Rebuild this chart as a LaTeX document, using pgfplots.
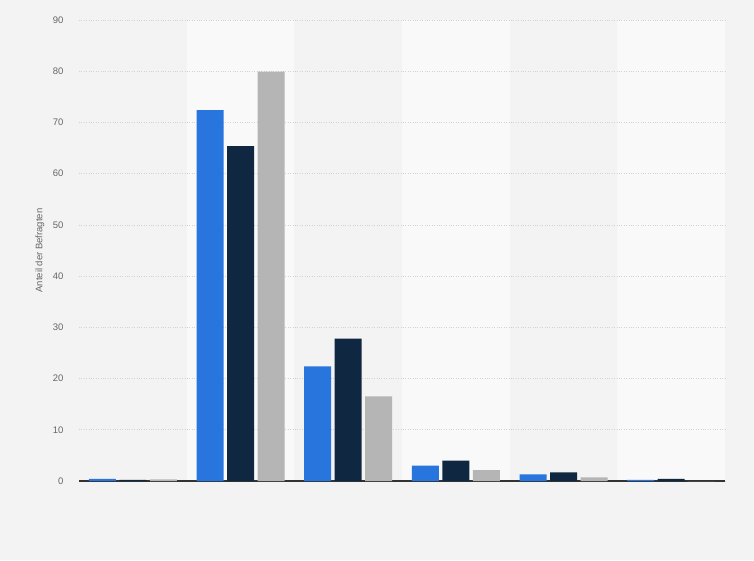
\documentclass[border=0pt]{standalone}
\usepackage{pgfplots}
\pgfplotsset{compat=1.18}
\usepackage{fontspec}
\setmainfont{Liberation Sans}

\definecolor{bg}{HTML}{F3F3F3}
\definecolor{band}{HTML}{F9F9F9}
\definecolor{sblue}{HTML}{2876DD}
\definecolor{snavy}{HTML}{0F2740}
\definecolor{sgray}{HTML}{B5B5B5}
\definecolor{gridc}{HTML}{D2D2D2}
\definecolor{tickc}{HTML}{666666}

\begin{document}
\begin{tikzpicture}[x=1pt,y=1pt]
\fill[bg] (0,0) rectangle (754,560);
% light column bands behind the plot area
\foreach \k in {1,3,5} {
  \fill[band] ({79+646/6*\k},79) rectangle ({79+646/6*(\k+1)},540);
}
\useasboundingbox (0,0) rectangle (754,560);
\begin{axis}[
    at={(79pt,79pt)}, anchor=south west,
    scale only axis,
    width=646pt, height=461pt,
    xmin=0, xmax=6,
    ymin=0, ymax=90,
    ybar=3.5pt, bar width=27pt,
    xtick=\empty,
    ytick={0,10,...,90},
    major tick length=0pt,
    axis y line*=left,
    y axis line style={draw=none},
    axis x line*=bottom,
    x axis line style={draw=black!80, line width=1.1pt, -},
    ymajorgrids,
    grid style={gridc, dotted, line width=0.7pt},
    /pgf/number format/assume math mode=true,
    tick label style={font=\fontsize{9.5}{11}\selectfont, text=tickc},
    yticklabel style={xshift=-12pt},
    ylabel={Anteil der Befragten},
    every axis y label/.style={at={(axis description cs:-0.0604,0.5)}, rotate=90, anchor=center,
      font=\fontsize{9.5}{11}\selectfont, text=tickc},
]
\addplot[fill=sblue, draw=none] coordinates {
  (0.5,0.4) (1.5,72.4) (2.5,22.4) (3.5,3.0) (4.5,1.3) (5.5,0.2)
};
\addplot[fill=snavy, draw=none] coordinates {
  (0.5,0.2) (1.5,65.4) (2.5,27.8) (3.5,4.0) (4.5,1.7) (5.5,0.4)
};
\addplot[fill=sgray, draw=none] coordinates {
  (0.5,0.3) (1.5,79.9) (2.5,16.5) (3.5,2.1) (4.5,0.7) (5.5,0.0)
};
\end{axis}
\end{tikzpicture}
\end{document}
